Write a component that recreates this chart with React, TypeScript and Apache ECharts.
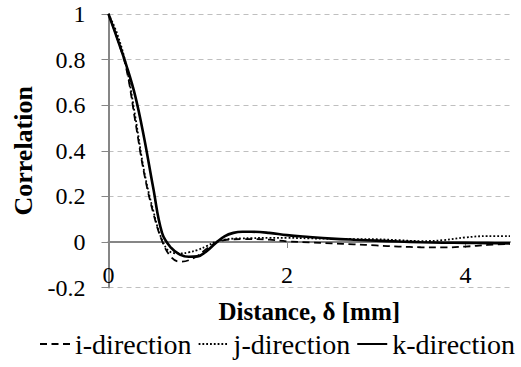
import React, { useEffect, useRef } from "react";
import * as echarts from "echarts";

const distance = [0, 0.1, 0.2, 0.3, 0.4, 0.5, 0.6, 0.7, 0.8, 0.9, 1.0, 1.1, 1.2, 1.3, 1.4, 1.5, 1.6, 1.8, 2.0, 2.25, 2.5, 2.75, 3.0, 3.25, 3.5, 3.75, 4.0, 4.25, 4.5];
const iDirection = [1, 0.89, 0.76, 0.53, 0.3, 0.13, 0.005, -0.065, -0.086, -0.08, -0.06, -0.03, -0.005, 0.008, 0.012, 0.013, 0.013, 0.01, 0.003, -0.002, -0.006, -0.01, -0.015, -0.02, -0.023, -0.024, -0.02, -0.013, -0.008];
const jDirection = [1, 0.91, 0.77, 0.55, 0.31, 0.14, 0.01, -0.045, -0.05, -0.045, -0.035, -0.018, 0.0, 0.01, 0.015, 0.016, 0.017, 0.018, 0.018, 0.016, 0.014, 0.013, 0.012, 0.008, 0.004, 0.008, 0.02, 0.026, 0.026];
const kDirection = [1, 0.89, 0.775, 0.64, 0.455, 0.24, 0.04, -0.025, -0.055, -0.065, -0.063, -0.04, -0.005, 0.025, 0.04, 0.045, 0.045, 0.04, 0.03, 0.022, 0.015, 0.01, 0.006, 0.002, -0.001, -0.003, -0.004, -0.005, -0.006];
const xTicks = [0, 2, 4];
const seriesNames = ["i-direction", "j-direction", "k-direction"];

const FONT = "Liberation Serif, Times New Roman, serif";

export default function App() {
  const ref = useRef<HTMLDivElement>(null);
  useEffect(() => {
    if (!ref.current) return;
    const chart = echarts.init(ref.current, undefined, { renderer: "svg" });
    const pairs = (ys: number[]) => distance.map((x, i) => [x, ys[i]]);
    chart.setOption({
      animation: false,
      textStyle: { fontFamily: FONT, color: "#000" },
      grid: { left: 108.5, right: 11, top: 14, bottom: 79.4, containLabel: false },
      xAxis: {
        type: "value",
        min: 0,
        max: 4.5,
        interval: 2,
        name: "Distance, δ [mm]",
        nameLocation: "middle",
        nameGap: 11,
        nameTextStyle: { fontFamily: FONT, fontSize: 25, fontWeight: "bold", color: "#000" },
        axisLine: { onZero: true, lineStyle: { color: "#868686", width: 2 } },
        axisTick: { show: true, length: 6, lineStyle: { color: "#868686" }, customValues: xTicks },
        axisLabel: { margin: -25, fontFamily: FONT, fontSize: 24, color: "#000", customValues: xTicks },
        splitLine: { show: false },
      },
      yAxis: {
        type: "value",
        min: -0.2,
        max: 1,
        interval: 0.2,
        name: "Correlation",
        nameLocation: "middle",
        nameGap: 72,
        nameTextStyle: { fontFamily: FONT, fontSize: 26, fontWeight: "bold", color: "#000" },
        axisLine: { show: true, lineStyle: { color: "#868686", width: 2 } },
        axisTick: { show: true, length: 7, lineStyle: { color: "#868686" } },
        axisLabel: {
          margin: 23,
          fontFamily: FONT,
          fontSize: 24,
          color: "#000",
          formatter: (v: number) => String(Math.round(v * 10) / 10),
        },
        splitLine: { show: true, lineStyle: { color: "#bfbfbf", type: [5, 4], width: 1 } },
      },
      legend: {
        bottom: 4,
        left: 34,
        itemWidth: 30,
        itemHeight: 14,
        itemGap: 6,
        itemStyle: { opacity: 0 },
        textStyle: { fontFamily: FONT, fontSize: 28, color: "#000" },
        data: seriesNames,
      },
      series: [
        {
          name: seriesNames[0],
          type: "line",
          data: pairs(iDirection),
          smooth: 0.4,
          symbol: "none",
          lineStyle: { color: "#000", width: 1.8, type: [7, 4.5] },
          itemStyle: { color: "#000" },
          z: 3,
        },
        {
          name: seriesNames[1],
          type: "line",
          data: pairs(jDirection),
          smooth: 0.4,
          symbol: "none",
          lineStyle: { color: "#000", width: 1.8, type: [1.8, 2] },
          itemStyle: { color: "#000" },
          z: 3,
        },
        {
          name: seriesNames[2],
          type: "line",
          data: pairs(kDirection),
          smooth: 0.4,
          symbol: "none",
          lineStyle: { color: "#000", width: 2.6, type: "solid" },
          itemStyle: { color: "#000" },
          z: 4,
        },
      ],
    });
    return () => chart.dispose();
  }, []);
  return <div ref={ref} style={{ width: 521, height: 367, position: "absolute", left: 0, top: 0 }} />;
}
